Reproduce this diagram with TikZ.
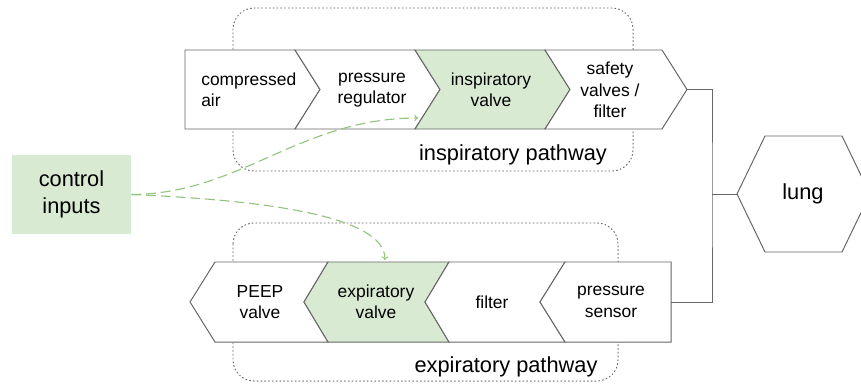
\documentclass[tikz,border=0pt]{standalone}
\usepackage{fontspec}
\setmainfont{Liberation Sans}
\definecolor{lightgreen}{HTML}{D9EAD3}
\definecolor{arrowgreen}{HTML}{93C47D}
\definecolor{linegray}{HTML}{666666}

\begin{document}
\begin{tikzpicture}[x=0.025cm, y=-0.025cm,
    chev/.style={draw=linegray, line width=0.7pt, fill=white},
    lbl/.style={font=\fontsize{12.4}{15.3}\selectfont, align=center, inner sep=0pt},
    biglbl/.style={font=\fontsize{15.5}{19}\selectfont, align=center, inner sep=0pt},
    pathwaybox/.style={draw=linegray, line width=0.7pt, dotted, line cap=round, rounded corners=15},
    ctrlarrow/.style={->, draw=arrowgreen, line width=0.8pt, dash pattern=on 7pt off 3.5pt}]
    \useasboundingbox (0,0) rectangle (861,383);

    % Pathway frames
    \draw[pathwaybox] (233,8) rectangle (633,171);
    \draw[pathwaybox] (233,223) rectangle (618,381);
    \node[biglbl, anchor=base] (insplabel) at (513,160) {inspiratory pathway};
    \node[biglbl, anchor=base] (explabel) at (506,372) {expiratory pathway};

    % Inspiratory chain
    \draw[chev] (185,50) -- (295,50) -- (320,89.5) -- (295,129) -- (185,129) -- cycle;
    \draw[chev] (295,50) -- (415,50) -- (440,89.5) -- (415,129) -- (295,129) -- (320,89.5) -- cycle;
    \draw[chev, fill=lightgreen] (415,50) -- (545,50) -- (570,89.5) -- (545,129) -- (415,129) -- (440,89.5) -- cycle;
    \draw[chev] (545,50) -- (662,50) -- (687,89.5) -- (662,129) -- (545,129) -- (570,89.5) -- cycle;
    \node[lbl, align=left, anchor=west] (air) at (201,90) {compressed\\air};
    \node[lbl] (regulator) at (372,90) {pressure\\regulator};
    \node[lbl] (inspvalve) at (491,90) {inspiratory\\valve};
    \node[lbl] (safety) at (610,90) {safety\\valves /\\filter};

    % Expiratory chain
    \draw[chev] (215,262) -- (328,262) -- (304,302) -- (328,342) -- (215,342) -- (190,302) -- cycle;
    \draw[chev, fill=lightgreen] (328,262) -- (449,262) -- (425,302) -- (449,342) -- (328,342) -- (304,302) -- cycle;
    \draw[chev] (449,262) -- (565,262) -- (540,302) -- (565,342) -- (449,342) -- (425,302) -- cycle;
    \draw[chev] (565,262) -- (671,262) -- (671,342) -- (565,342) -- (540,302) -- cycle;
    \node[lbl] (peep) at (260,302) {PEEP\\valve};
    \node[lbl] (expvalve) at (376,302) {expiratory\\valve};
    \node[lbl] (filter) at (492,302) {filter};
    \node[lbl] (sensor) at (611,302) {pressure\\sensor};

    % Lung and control inputs
    \draw[chev] (737,194) -- (765,136) -- (842,136) -- (870,194) -- (842,252) -- (765,252) -- cycle;
    \node[biglbl] (lung) at (803,194) {lung};
    \node[fill=lightgreen, minimum width=2.975cm, minimum height=1.975cm, biglbl] (ctrl) at (71.5,194.5) {control\\inputs};

    % Connectors
    \coordinate (safetytip) at (687,89.5);
    \coordinate (sensorend) at (671,302);
    \coordinate (lungtip) at (737,194);
    \coordinate (bus) at (712,194);
    \draw[linegray, line width=0.7pt] (safetytip) -| (bus) |- (sensorend);
    \draw[linegray, line width=0.7pt] (bus) -- (lungtip);

    \coordinate (inspin) at (418,118);
    \coordinate (expin) at (385,260);
    \draw[ctrlarrow] (ctrl.east) .. controls (240,194) and (300,118) .. (inspin);
    \draw[ctrlarrow] (ctrl.east) .. controls (260,200) and (385,215) .. (expin);
\end{tikzpicture}
\end{document}
